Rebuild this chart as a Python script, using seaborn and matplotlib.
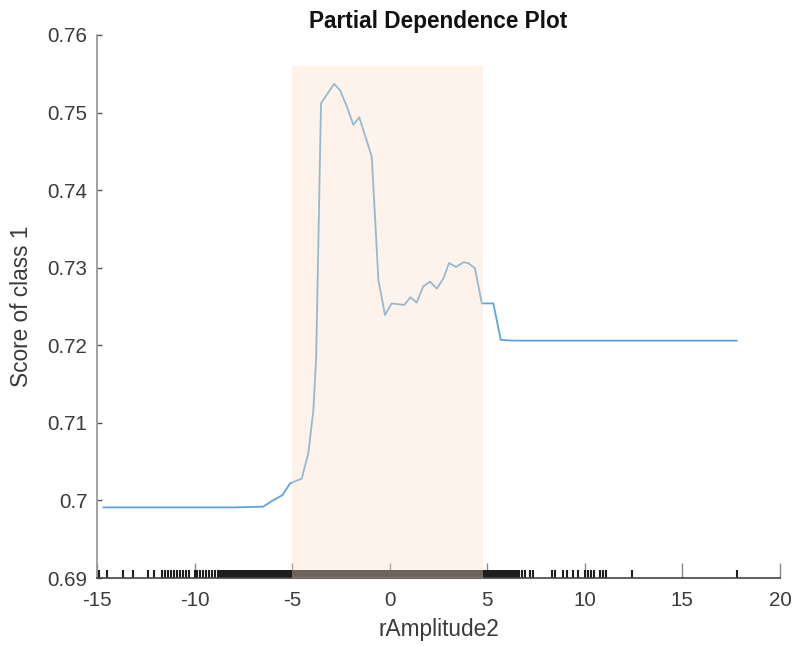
import matplotlib
matplotlib.use("Agg")
import matplotlib.pyplot as plt
import seaborn as sns
import pandas as pd

# ---- data ----
pd_x = [-14.68, -8.0, -6.48, -6.05, -5.49, -5.11, -4.51, -4.17, -3.91, -3.77,
        -3.52, -2.85, -2.55, -2.2, -1.86, -1.56, -0.92, -0.58, -0.24, 0.10,
        0.74, 1.07, 1.38, 1.72, 2.07, 2.41, 2.75, 3.04, 3.40, 3.78,
        4.03, 4.37, 4.72, 5.31, 5.69, 6.34, 17.79]
pd_y = [0.6991, 0.6991, 0.6992, 0.6999, 0.7007, 0.7022, 0.7028, 0.7061, 0.7117, 0.7184,
        0.7512, 0.7537, 0.7529, 0.7508, 0.7484, 0.7494, 0.7443, 0.7284, 0.7239, 0.7254,
        0.7252, 0.7262, 0.7255, 0.7276, 0.7282, 0.7273, 0.7286, 0.7306, 0.7301, 0.7307,
        0.7306, 0.7299, 0.7254, 0.7254, 0.7207, 0.7206, 0.7206]

rug_sparse_left = [-14.88, -14.5, -13.65, -13.14, -12.37, -12.1, -11.69, -11.5, -11.35,
                   -11.2, -11.05, -10.9, -10.75, -10.6, -10.45, -10.3, -10.0, -9.85,
                   -9.7, -9.55, -9.4, -9.25, -9.1, -8.95, -8.8, -8.7]
rug_dense = [-8.6, -8.5, -8.4, -8.3, -8.2, -8.1, -8.0, -7.9, -7.8, -7.7, -7.6, -7.5,
             -7.4, -7.3, -7.2, -7.1, -7.0, -6.9, -6.8, -6.7, -6.6, -6.5, -6.4, -6.3,
             -6.2, -6.1, -6.0, -5.9, -5.8, -5.7, -5.6, -5.5, -5.4, -5.3, -5.2, -5.1,
             -5.0, -4.9, -4.8, -4.7, -4.6, -4.5, -4.4, -4.3, -4.2, -4.1, -4.0, -3.9,
             -3.8, -3.7, -3.6, -3.5, -3.4, -3.3, -3.2, -3.1, -3.0, -2.9, -2.8, -2.7,
             -2.6, -2.5, -2.4, -2.3, -2.2, -2.1, -2.0, -1.9, -1.8, -1.7, -1.6, -1.5,
             -1.4, -1.3, -1.2, -1.1, -1.0, -0.9, -0.8, -0.7, -0.6, -0.5, -0.4, -0.3,
             -0.2, -0.1, 0.0, 0.1, 0.2, 0.3, 0.4, 0.5, 0.6, 0.7, 0.8, 0.9,
             1.0, 1.1, 1.2, 1.3, 1.4, 1.5, 1.6, 1.7, 1.8, 1.9, 2.0, 2.1,
             2.2, 2.3, 2.4, 2.5, 2.6, 2.7, 2.8, 2.9, 3.0, 3.1, 3.2, 3.3,
             3.4, 3.5, 3.6, 3.7, 3.8, 3.9, 4.0, 4.1, 4.2, 4.3, 4.4, 4.5,
             4.6, 4.7, 4.8, 4.9, 5.0, 5.1, 5.2, 5.3, 5.4, 5.5, 5.6, 5.7,
             5.8, 5.9, 6.0, 6.1, 6.2, 6.3, 6.4, 6.5]
rug_sparse_right = [6.65, 6.8, 6.95, 7.2, 7.35, 8.3, 8.47, 8.9, 9.07, 9.4, 9.66,
                    10.0, 10.15, 10.3, 10.45, 10.8, 10.95, 11.1, 12.4, 17.8]
rug_x = rug_sparse_left + rug_dense + rug_sparse_right

band_lo, band_hi, band_top = -5.0, 4.78, 0.756

x_ticks = [-15, -10, -5, 0, 5, 10, 15, 20]
y_ticks = [0.69, 0.70, 0.71, 0.72, 0.73, 0.74, 0.75, 0.76]
y_tick_labels = ["0.69", "0.7", "0.71", "0.72", "0.73", "0.74", "0.75", "0.76"]

title = "Partial Dependence Plot"
x_label = "rAmplitude2"
y_label = "Score of class 1"

# ---- style ----
sns.set_style("white")
plt.rcParams["font.family"] = ["Liberation Sans", "DejaVu Sans"]

fig = plt.figure(figsize=(7.92, 6.46), dpi=100)
ax = fig.add_axes([97 / 792, 1 - 578 / 646, (780 - 97) / 792, (578 - 35) / 646])

df = pd.DataFrame({"x": pd_x, "y": pd_y})
sns.lineplot(data=df, x="x", y="y", ax=ax, color="#5DA5DA", lw=1.3, zorder=3)

sns.rugplot(x=rug_x, ax=ax, height=0.014, color="#1e1e1e", linewidth=1.5,
            zorder=2)

ax.axvspan(band_lo, band_hi, ymin=0, ymax=(band_top - 0.69) / 0.07,
           facecolor=(250 / 255, 223 / 255, 198 / 255), alpha=0.36,
           edgecolor="none", zorder=4)

ax.set_xlim(-15, 20)
ax.set_ylim(0.69, 0.76)
ax.set_xticks(x_ticks)
ax.set_xticklabels([str(t) for t in x_ticks])
ax.set_yticks(y_ticks)
ax.set_yticklabels(y_tick_labels)

for s in ["top", "right"]:
    ax.spines[s].set_visible(False)
ax.spines["left"].set_color("#9a9a9a")
ax.spines["left"].set_linewidth(1.3)
ax.spines["bottom"].set_color("#444444")
ax.spines["bottom"].set_linewidth(1.2)

txt = "#3a3a3a"
ax.tick_params(axis="x", bottom=True, direction="in", length=11, width=1,
               color="#888888", labelsize=14.8, labelcolor=txt, pad=9)
ax.tick_params(axis="y", left=True, direction="in", length=3.5, width=1,
               color="#555555", labelsize=14.8, labelcolor=txt, pad=7)

ax.set_xlabel(x_label, fontsize=16.3, color=txt, labelpad=6)
ax.set_ylabel(y_label, fontsize=16.3, color=txt, labelpad=10)
ax.set_title(title, fontsize=16.3, fontweight="bold", color="#111111", pad=5)

fig.savefig("out.png", dpi=100)
